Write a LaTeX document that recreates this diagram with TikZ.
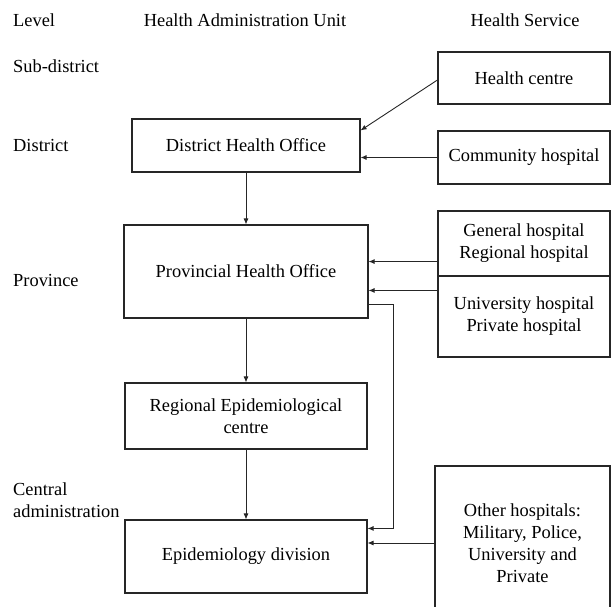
\documentclass[tikz,border=0pt]{standalone}
\usepackage{fontspec}
\setmainfont{Liberation Serif}
\usetikzlibrary{arrows.meta,positioning,calc}

\begin{document}
\begin{tikzpicture}[x=1pt,y=-1pt,
  font=\fontsize{18.4}{22}\selectfont,
  box/.style={rectangle, draw=black!85, line width=1.1pt, align=center, inner sep=2pt},
  arr/.style={draw=black!85, line width=0.9pt, -{Latex[length=6pt,width=5pt]}},
  lbl/.style={inner sep=0pt, align=left}]
\useasboundingbox (0,0) rectangle (611,607);
\clip (0,0) rectangle (611,607);

% column heads and levels
\node[lbl, anchor=base west] (lvl) at (13,27) {Level};
\node[lbl, anchor=base] (hau) at (245,27) {Health Administration Unit};
\node[lbl, anchor=base] (hs) at (525,27) {Health Service};
\node[lbl, anchor=base west] (sub) at (13,73) {Sub-district};
\node[lbl, anchor=base west] (dist) at (13,152) {District};
\node[lbl, anchor=base west] (prov) at (13,287) {Province};
\node[lbl, anchor=base west] (cen) at (13,517) {Central\\administration};

% administration units
\node[box, minimum width=228pt, minimum height=53pt] (dho) at (246,145.5) {District Health Office};
\node[box, minimum width=244pt, minimum height=93pt] (pho) at (246,271.5) {Provincial Health Office};
\node[box, minimum width=242pt, minimum height=66pt] (rec) at (246,416) {Regional Epidemiological\\centre};
\node[box, minimum width=242pt, minimum height=73pt] (epi) at (246,556.5) {Epidemiology division};

% health services
\node[box, minimum width=172pt, minimum height=52pt] (hc) at (524,78) {Health centre};
\node[box, minimum width=172pt, minimum height=53pt] (ch) at (524,157.5) {Community hospital};
\node[box, minimum width=172pt, minimum height=65pt] (gr) at (524,243.5) {General hospital\\Regional hospital};
\node[box, minimum width=172pt, minimum height=81pt] (up) at (524,316.5) {University hospital\\Private hospital};
\node[box, minimum width=175pt, minimum height=154pt] (oh) at (522.5,543) {Other hospitals:\\Military, Police,\\University and\\Private};

% reporting lines
\draw[arr] (dho) -- (pho);
\draw[arr] (pho) -- (rec);
\draw[arr] (rec) -- (epi);
\draw[arr] ([yshift=-2pt]hc.west) -- ([yshift=-12pt]dho.north east);
\draw[arr] (ch.west) -- (ch.west -| dho.east);
\draw[arr] ([yshift=15pt]gr.south west) -- ([yshift=15pt]gr.south west -| pho.east);
\draw[arr] ([yshift=-15pt]up.north west) -- ([yshift=-15pt]up.north west -| pho.east);
\draw[arr] ([yshift=14pt]pho.south east) -- ++(25,0) |- ([yshift=-9pt]epi.north east);
\draw[arr] (oh.west) -- (oh.west -| epi.east);
\end{tikzpicture}
\end{document}
